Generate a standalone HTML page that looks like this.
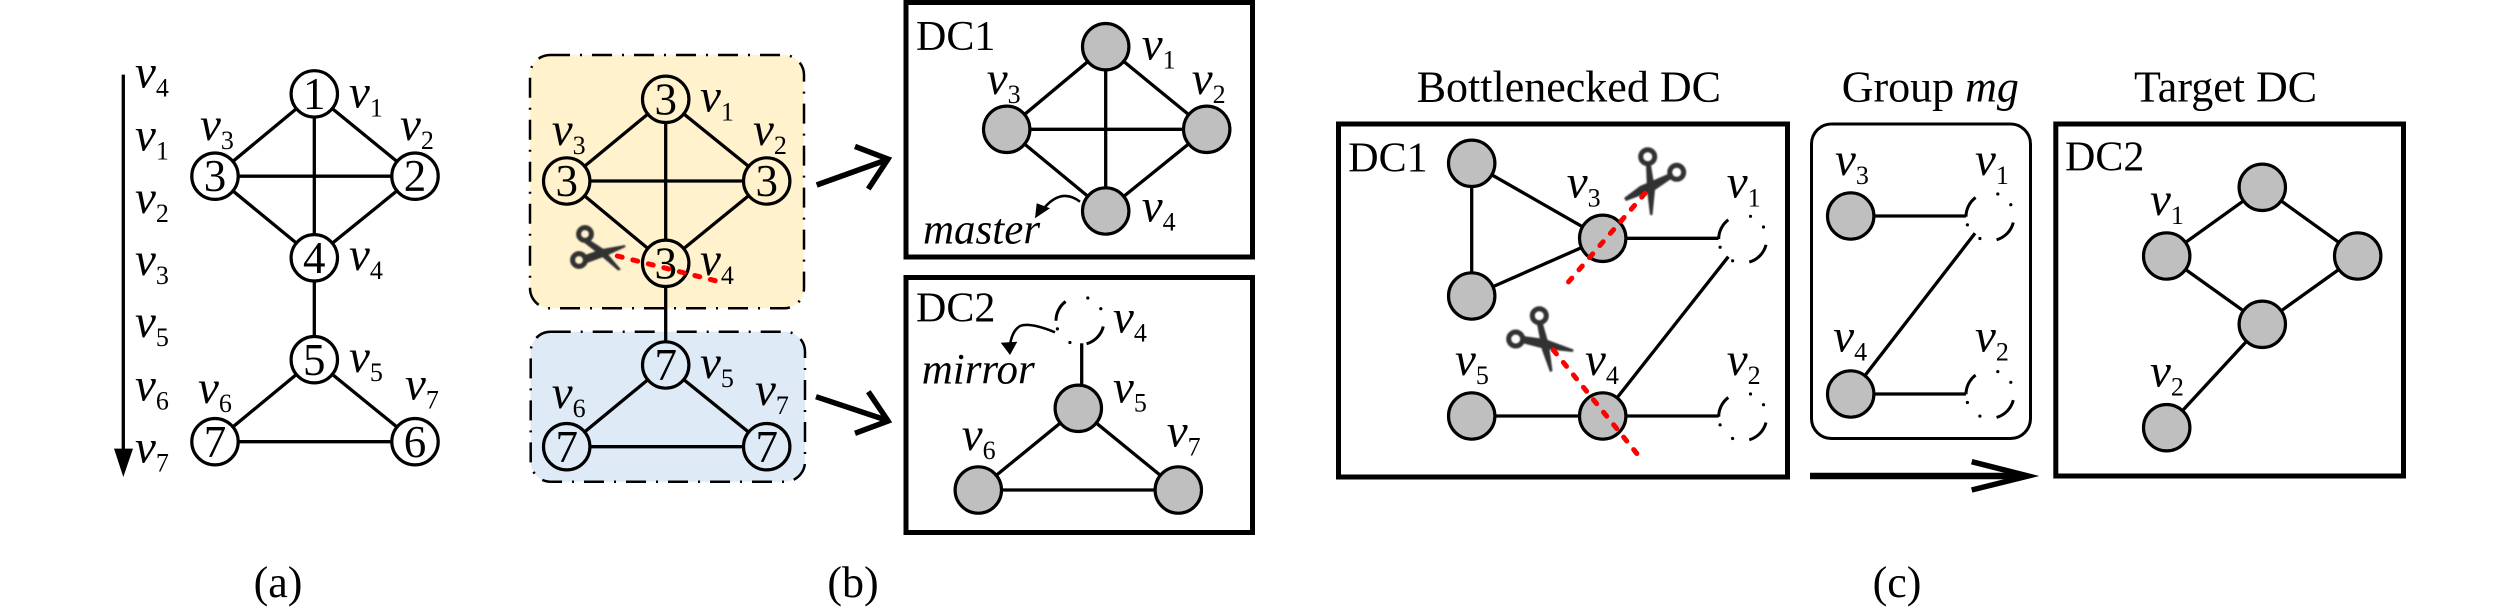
<!DOCTYPE html>
<html><head><meta charset="utf-8"><style>
html,body{margin:0;padding:0;background:#fff}
svg{display:block}
text{font-family:"Liberation Serif",serif;fill:#000}
.v{font-size:47px;font-style:italic}
.s{font-size:26px;font-style:normal}
.n{font-size:45px;text-anchor:middle}
.t{font-size:44px}
.d{font-size:42px}
.i{font-size:43px;font-style:italic}
.l line,.l path{stroke:#000;stroke-width:3.3;fill:none}
.c circle{stroke:#000;stroke-width:3.2}
.g circle{fill:#bfbfbf}
.r{stroke:#f00;stroke-width:5;stroke-dasharray:5 11;stroke-linecap:round;fill:none}
.sc{filter:url(#b)}
.sc circle{fill:none;stroke:#333;stroke-width:5}
.sc polygon{fill:#333}
.dd{stroke:#000;stroke-width:2.5;stroke-dasharray:20 10 2 10}
</style></head><body>
<svg width="2520" height="611" viewBox="0 0 2520 611" xmlns="http://www.w3.org/2000/svg">
<defs>
<filter id="b" x="-20%" y="-20%" width="140%" height="140%"><feGaussianBlur stdDeviation="0.7"/></filter>
<g id="dash">
<path d="M-24,0A24 24 0 0 1 -14.4,-19.2M23.3,5.8A24 24 0 0 1 6.6,23.1" fill="none" stroke="#000" stroke-width="3"/>
<circle cx="7.8" cy="-22.7" r="1.6"/><circle cx="20.8" cy="-12" r="1.6"/><circle cx="-10.1" cy="21.8" r="1.6"/><circle cx="-22.6" cy="8.2" r="1.6"/>
</g>
</defs>
<rect width="2520" height="611" fill="#fff"/>

<!-- (a) -->
<line x1="123.3" y1="74.6" x2="123.3" y2="450" stroke="#000" stroke-width="3.3"/>
<polygon points="114,448.6 133,448.6 123.3,477" fill="#000"/>
<g class="v">
<text x="135" y="87.3">v<tspan class="s" dy="9">4</tspan></text>
<text x="135" y="150.3">v<tspan class="s" dy="9">1</tspan></text>
<text x="135" y="213">v<tspan class="s" dy="9">2</tspan></text>
<text x="135" y="274.9">v<tspan class="s" dy="9">3</tspan></text>
<text x="135" y="336.8">v<tspan class="s" dy="9">5</tspan></text>
<text x="135" y="400.5">v<tspan class="s" dy="9">6</tspan></text>
<text x="135" y="462.4">v<tspan class="s" dy="9">7</tspan></text>
<text x="349" y="107.4">v<tspan class="s" dy="9">1</tspan></text>
<text x="200" y="140">v<tspan class="s" dy="9">3</tspan></text>
<text x="400" y="140">v<tspan class="s" dy="9">2</tspan></text>
<text x="349" y="270">v<tspan class="s" dy="9">4</tspan></text>
<text x="349" y="372">v<tspan class="s" dy="9">5</tspan></text>
<text x="198" y="403">v<tspan class="s" dy="9">6</tspan></text>
<text x="405" y="399.4">v<tspan class="s" dy="9">7</tspan></text>
</g>
<g class="l">
<line x1="314.3" y1="93.9" x2="215" y2="176.2"/><line x1="314.3" y1="93.9" x2="415" y2="176.2"/>
<line x1="314.3" y1="93.9" x2="314.3" y2="359.7"/><line x1="215" y1="176.2" x2="415" y2="176.2"/>
<line x1="215" y1="176.2" x2="314.3" y2="257.8"/><line x1="415" y1="176.2" x2="314.3" y2="257.8"/>
<line x1="314.3" y1="359.7" x2="215" y2="441.7"/><line x1="314.3" y1="359.7" x2="415" y2="441.7"/>
<line x1="215" y1="441.7" x2="415" y2="441.7"/>
</g>
<g class="c" fill="#fff">
<circle cx="314.3" cy="93.9" r="23.2"/><circle cx="215" cy="176.2" r="23.2"/><circle cx="415" cy="176.2" r="23.2"/>
<circle cx="314.3" cy="257.8" r="23.2"/><circle cx="314.3" cy="359.7" r="23.2"/><circle cx="215" cy="441.7" r="23.2"/><circle cx="415" cy="441.7" r="23.2"/>
</g>
<text class="n" x="314.3" y="109">1</text><text class="n" x="215" y="191">3</text><text class="n" x="415" y="191">2</text>
<text class="n" x="314.3" y="273">4</text><text class="n" x="314.3" y="375">5</text><text class="n" x="215" y="457">7</text><text class="n" x="415" y="457">6</text>
<text class="t" x="278" y="597" text-anchor="middle">(a)</text>

<!-- (b) -->
<rect class="dd" x="530" y="55" width="274" height="253.3" rx="20" fill="#fff2cc"/>
<rect class="dd" x="530.7" y="331.7" width="274.3" height="150" rx="20" fill="#deebf7"/>
<g class="l">
<line x1="665.7" y1="99.3" x2="566.7" y2="181"/><line x1="665.7" y1="99.3" x2="766.7" y2="181"/>
<line x1="665.7" y1="99.3" x2="665.7" y2="365"/><line x1="566.7" y1="181" x2="766.7" y2="181"/>
<line x1="566.7" y1="181" x2="665.7" y2="263.3"/><line x1="766.7" y1="181" x2="665.7" y2="263.3"/>
<line x1="665.7" y1="365" x2="566.7" y2="446.7"/><line x1="665.7" y1="365" x2="766.7" y2="446.7"/>
<line x1="566.7" y1="446.7" x2="766.7" y2="446.7"/>
</g>
<g class="c" fill="#fff2cc">
<circle cx="665.7" cy="99.3" r="23.2"/><circle cx="566.7" cy="181" r="23.2"/><circle cx="766.7" cy="181" r="23.2"/><circle cx="665.7" cy="263.3" r="23.2"/>
</g>
<g class="c" fill="#deebf7">
<circle cx="665.7" cy="365" r="23.2"/><circle cx="566.7" cy="446.7" r="23.2"/><circle cx="766.7" cy="446.7" r="23.2"/>
</g>
<text class="n" x="665.7" y="114.5">3</text><text class="n" x="566.7" y="196">3</text><text class="n" x="766.7" y="196">3</text><text class="n" x="665.7" y="278.5">3</text>
<text class="n" x="665.7" y="380">7</text><text class="n" x="566.7" y="462">7</text><text class="n" x="766.7" y="462">7</text>
<g class="v">
<text x="700" y="111.7">v<tspan class="s" dy="9">1</tspan></text>
<text x="551.7" y="145">v<tspan class="s" dy="9">3</tspan></text>
<text x="753" y="145">v<tspan class="s" dy="9">2</tspan></text>
<text x="700" y="275">v<tspan class="s" dy="9">4</tspan></text>
<text x="700" y="378">v<tspan class="s" dy="9">5</tspan></text>
<text x="551.7" y="408">v<tspan class="s" dy="9">6</tspan></text>
<text x="755" y="405">v<tspan class="s" dy="9">7</tspan></text>
</g>
<line class="r" x1="617.3" y1="256" x2="715.3" y2="280.7"/>
<g class="sc">
<circle cx="585" cy="234" r="6.4"/><circle cx="579" cy="260" r="6.4"/>
<polygon points="589,239.5 603.5,249 621,269.5 618,270.5 600,255 584.5,243"/>
<polygon points="585,255 602,249 625,245 625.5,247 606,256 587,263"/>
</g>

<!-- arrows b -->
<g fill="none" stroke="#000" stroke-width="5.5" stroke-miterlimit="10">
<line x1="816.7" y1="185" x2="889" y2="159"/>
<path d="M868.3,189L888,159L855,146.4"/>
<line x1="816" y1="396.7" x2="889" y2="421"/>
<path d="M868.3,391.7L888,421L855,433.3"/>
</g>

<!-- DC1 in b -->
<rect x="906" y="2.5" width="346.5" height="254.5" fill="#fff" stroke="#000" stroke-width="5"/>
<text class="d" x="916" y="50">DC1</text>
<g class="l">
<line x1="1105.7" y1="46.7" x2="1006.7" y2="129.3"/><line x1="1105.7" y1="46.7" x2="1206.7" y2="129.3"/>
<line x1="1105.7" y1="46.7" x2="1105.7" y2="211"/><line x1="1006.7" y1="129.3" x2="1206.7" y2="129.3"/>
<line x1="1006.7" y1="129.3" x2="1105.7" y2="211"/><line x1="1206.7" y1="129.3" x2="1105.7" y2="211"/>
</g>
<g class="c g">
<circle cx="1105.7" cy="46.7" r="23.2"/><circle cx="1006.7" cy="129.3" r="23.2"/><circle cx="1206.7" cy="129.3" r="23.2"/><circle cx="1105.7" cy="211" r="23.2"/>
</g>
<g class="v">
<text x="1141.7" y="59.3">v<tspan class="s" dy="9">1</tspan></text>
<text x="986.7" y="94">v<tspan class="s" dy="9">3</tspan></text>
<text x="1191.7" y="94">v<tspan class="s" dy="9">2</tspan></text>
<text x="1141.7" y="221.7">v<tspan class="s" dy="9">4</tspan></text>
</g>
<text class="i" x="923" y="243.3">master</text>
<path d="M1080,201.7Q1062,188 1045,207" fill="none" stroke="#000" stroke-width="2.5"/>
<polygon points="1035,218.3 1036.7,203.3 1050,208.3" fill="#000"/>

<!-- DC2 in b -->
<rect x="906" y="277.5" width="346.5" height="255" fill="#fff" stroke="#000" stroke-width="5"/>
<text class="d" x="916" y="321.7">DC2</text>
<g class="l">
<line x1="1081.7" y1="343.3" x2="1081.7" y2="390"/>
<line x1="1078.3" y1="408.3" x2="978.3" y2="490"/><line x1="1078.3" y1="408.3" x2="1178.3" y2="490"/>
<line x1="978.3" y1="490" x2="1178.3" y2="490"/>
</g>
<g class="c g">
<circle cx="1078.3" cy="408.3" r="23.2"/><circle cx="978.3" cy="490" r="23.2"/><circle cx="1178.3" cy="490" r="23.2"/>
</g>
<use href="#dash" x="1080" y="320.7"/>
<g class="v">
<text x="1113" y="332.3">v<tspan class="s" dy="9">4</tspan></text>
<text x="1113" y="402.3">v<tspan class="s" dy="9">5</tspan></text>
<text x="961.7" y="450">v<tspan class="s" dy="9">6</tspan></text>
<text x="1166.7" y="446.7">v<tspan class="s" dy="9">7</tspan></text>
</g>
<text class="i" x="921.7" y="383.3">mirror</text>
<path d="M1055,332.3Q1030,322 1020,326Q1012,331 1010,345" fill="none" stroke="#000" stroke-width="2.5"/>
<polygon points="1010,355 1000.7,342.7 1017.3,341.7" fill="#000"/>
<text class="t" x="853" y="597" text-anchor="middle">(b)</text>

<!-- (c) Bottlenecked -->
<text class="t" x="1416.7" y="101.7">Bottlenecked DC</text>
<rect x="1338.5" y="124" width="449" height="353" fill="#fff" stroke="#000" stroke-width="5"/>
<text class="d" x="1348.3" y="171.7">DC1</text>
<g class="l">
<line x1="1471.7" y1="163.3" x2="1471.7" y2="296"/><line x1="1471.7" y1="163.3" x2="1602.7" y2="238.3"/>
<line x1="1471.7" y1="296" x2="1602.7" y2="238.3"/><line x1="1602.7" y1="238.3" x2="1718.5" y2="238.3"/>
<line x1="1602.7" y1="416" x2="1728.3" y2="256.7"/><line x1="1471.7" y1="416" x2="1602.7" y2="416"/>
<line x1="1602.7" y1="416" x2="1718.5" y2="416"/>
</g>
<g class="c g">
<circle cx="1471.7" cy="163.3" r="23.2"/><circle cx="1471.7" cy="296" r="23.2"/><circle cx="1602.7" cy="238.3" r="23.2"/>
<circle cx="1471.7" cy="416" r="23.2"/><circle cx="1602.7" cy="416" r="23.2"/>
</g>
<use href="#dash" x="1742.7" y="239"/><use href="#dash" x="1742.7" y="416.7"/>
<g class="v">
<text x="1566.7" y="197.3">v<tspan class="s" dy="9">3</tspan></text>
<text x="1726.7" y="197.3">v<tspan class="s" dy="9">1</tspan></text>
<text x="1455" y="375">v<tspan class="s" dy="9">5</tspan></text>
<text x="1585" y="375">v<tspan class="s" dy="9">4</tspan></text>
<text x="1726.7" y="375">v<tspan class="s" dy="9">2</tspan></text>
</g>
<g class="sc">
<circle cx="1647.7" cy="156.7" r="7" stroke-width="6"/><circle cx="1676.7" cy="172.3" r="7" stroke-width="6"/>
<polygon points="1646,165 1651,165 1655,190 1652.5,215 1650,215 1647,190"/>
<polygon points="1668,174 1671,179 1655,190 1626,201 1624,198 1640,186"/>
</g>
<g class="sc">
<circle cx="1539.3" cy="315.7" r="7"/><circle cx="1515.7" cy="339" r="7"/>
<polygon points="1537,324 1543,324 1549,345 1552.5,371 1550,372 1542,350"/>
<polygon points="1523,336 1545,339 1573.5,349.5 1573,352 1545,349 1522,343"/>
</g>
<line class="r" x1="1645" y1="193.3" x2="1566.7" y2="284"/>
<line class="r" x1="1553.3" y1="350" x2="1640.7" y2="458.3"/>

<!-- Group -->
<text class="t" x="1841.7" y="101.7">Group <tspan font-style="italic">mg</tspan></text>
<rect x="1811.5" y="124" width="219" height="314.5" rx="20" fill="#fff" stroke="#000" stroke-width="3"/>
<g class="l">
<line x1="1850.7" y1="216" x2="1965.9" y2="216"/><line x1="1850.7" y1="394" x2="1965.9" y2="394"/>
<line x1="1850.7" y1="394" x2="1975" y2="233.3"/>
</g>
<g class="c g"><circle cx="1850.7" cy="216" r="23.2"/><circle cx="1850.7" cy="394" r="23.2"/></g>
<use href="#dash" x="1990" y="216.7"/><use href="#dash" x="1990" y="394.3"/>
<g class="v">
<text x="1835" y="175">v<tspan class="s" dy="9">3</tspan></text>
<text x="1975" y="175">v<tspan class="s" dy="9">1</tspan></text>
<text x="1833.3" y="351.7">v<tspan class="s" dy="9">4</tspan></text>
<text x="1975" y="351.7">v<tspan class="s" dy="9">2</tspan></text>
</g>
<line x1="1810" y1="476" x2="2025" y2="476" stroke="#000" stroke-width="6.5"/>
<path d="M1971.7,461.7L2028,476L1971.7,490" fill="none" stroke="#000" stroke-width="5.5" stroke-miterlimit="10"/>

<!-- Target -->
<text class="t" x="2134" y="101.7">Target DC</text>
<rect x="2055.8" y="124" width="347.7" height="352" fill="#fff" stroke="#000" stroke-width="5"/>
<text class="d" x="2065" y="170.7">DC2</text>
<g class="l">
<line x1="2262.3" y1="187.3" x2="2166.7" y2="256"/><line x1="2262.3" y1="187.3" x2="2357.7" y2="256"/>
<line x1="2166.7" y1="256" x2="2262.3" y2="324.3"/><line x1="2357.7" y1="256" x2="2262.3" y2="324.3"/>
<line x1="2262.3" y1="324.3" x2="2166.7" y2="427.7"/>
</g>
<g class="c g">
<circle cx="2262.3" cy="187.3" r="23.2"/><circle cx="2166.7" cy="256" r="23.2"/><circle cx="2357.7" cy="256" r="23.2"/>
<circle cx="2262.3" cy="324.3" r="23.2"/><circle cx="2166.7" cy="427.7" r="23.2"/>
</g>
<g class="v">
<text x="2150" y="215">v<tspan class="s" dy="9">1</tspan></text>
<text x="2150" y="386.7">v<tspan class="s" dy="9">2</tspan></text>
</g>
<text class="t" x="1897" y="597" text-anchor="middle">(c)</text>
</svg>
</body></html>
